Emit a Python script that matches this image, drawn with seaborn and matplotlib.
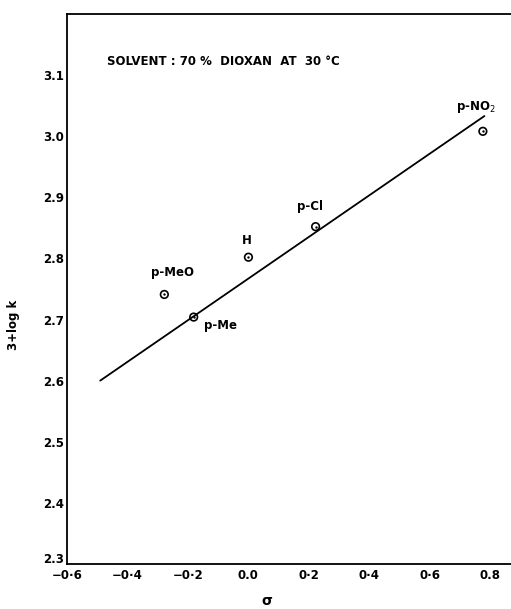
import numpy as np
import pandas as pd
import matplotlib
matplotlib.use('Agg')
import matplotlib.pyplot as plt
import matplotlib.transforms as mtransforms
import seaborn as sns

# substituent constants and rates
substituents = ['p-MeO', 'p-Me', 'H', 'p-Cl', 'p-NO$_2$']
sigma = [-0.278, -0.181, 0.0, 0.222, 0.775]
logk = [2.741, 2.704, 2.802, 2.852, 3.008]

# label positions (data coords)
label_x = [-0.252, -0.093, -0.004, 0.204, 0.752]
label_y = [2.777, 2.691, 2.830, 2.885, 3.048]

# fitted line end points
line_x = [-0.49, 0.78]
line_y = [2.600, 3.033]

xticks = [-0.6, -0.4, -0.2, 0.0, 0.2, 0.4, 0.6, 0.8]
xticklabels = ['\u22120\u00b76', '\u22120\u00b74', '\u22120\u00b72', '0.0', '0\u00b72', '0\u00b74', '0\u00b76', '0.8']
yticks = [2.3, 2.4, 2.5, 2.6, 2.7, 2.8, 2.9, 3.0, 3.1]

sns.set_style('white')
plt.rcParams['font.family'] = ['DejaVu Sans']
plt.rcParams['text.color'] = 'black'
plt.rcParams['axes.labelcolor'] = 'black'
plt.rcParams['xtick.color'] = 'black'
plt.rcParams['ytick.color'] = 'black'

df = pd.DataFrame({'sigma': sigma, 'logk': logk, 'sub': substituents})

fig = plt.figure(figsize=(5.11, 6.09), dpi=100)
ax = fig.add_axes([0.131, 0.074, 1 - 0.131, 0.903])

sns.lineplot(x=line_x, y=line_y, color='black', lw=1.3, ax=ax)
sns.scatterplot(data=df, x='sigma', y='logk', marker='o', s=30, facecolor='none',
                edgecolor='black', linewidth=1.2, ax=ax, zorder=3)
sns.scatterplot(data=df, x='sigma', y='logk', marker='o', s=3, color='black',
                linewidth=0, ax=ax, zorder=4)

for name, tx, ty in zip(substituents, label_x, label_y):
    ax.text(tx, ty, name, ha='center', va='center', fontsize=8.5, fontweight='bold')

ax.text(-0.467, 3.123, 'SOLVENT : 70 %  DIOXAN  AT  30 \u00b0C', ha='left', va='center',
        fontsize=8.5, fontweight='bold')

ax.set_xlim(-0.6, 0.868)
ax.set_ylim(2.3, 3.2)
ax.set_xticks(xticks)
ax.set_xticklabels(xticklabels)
ax.set_yticks(yticks)
ax.set_yticklabels([f'{v:.1f}' for v in yticks])
ax.tick_params(axis='y', direction='in', length=8.5, width=1.2, labelsize=8.5, pad=2)
ax.tick_params(axis='x', direction='in', length=7, width=1.2, labelsize=8.5, pad=4)
for lab in ax.get_xticklabels() + ax.get_yticklabels():
    lab.set_fontweight('bold')

# lift the bottom y label a little so it clears the -0.6 label
lowest = ax.get_yticklabels()[0]
lowest.set_transform(lowest.get_transform() +
                     mtransforms.ScaledTranslation(0, 4 / 72, fig.dpi_scale_trans))

for side in ['left', 'top', 'bottom']:
    ax.spines[side].set_visible(True)
    ax.spines[side].set_linewidth(1.3)
    ax.spines[side].set_color('black')
ax.spines['right'].set_visible(False)

ax.set_xlabel('\u03c3', fontsize=10, fontweight='bold')
ax.xaxis.set_label_coords(0.45, -0.055)
ax.set_ylabel('3+log k', fontsize=8.5, fontweight='bold')
ax.yaxis.set_label_coords(-0.105, 0.435)

fig.savefig('out.png', dpi=100)
